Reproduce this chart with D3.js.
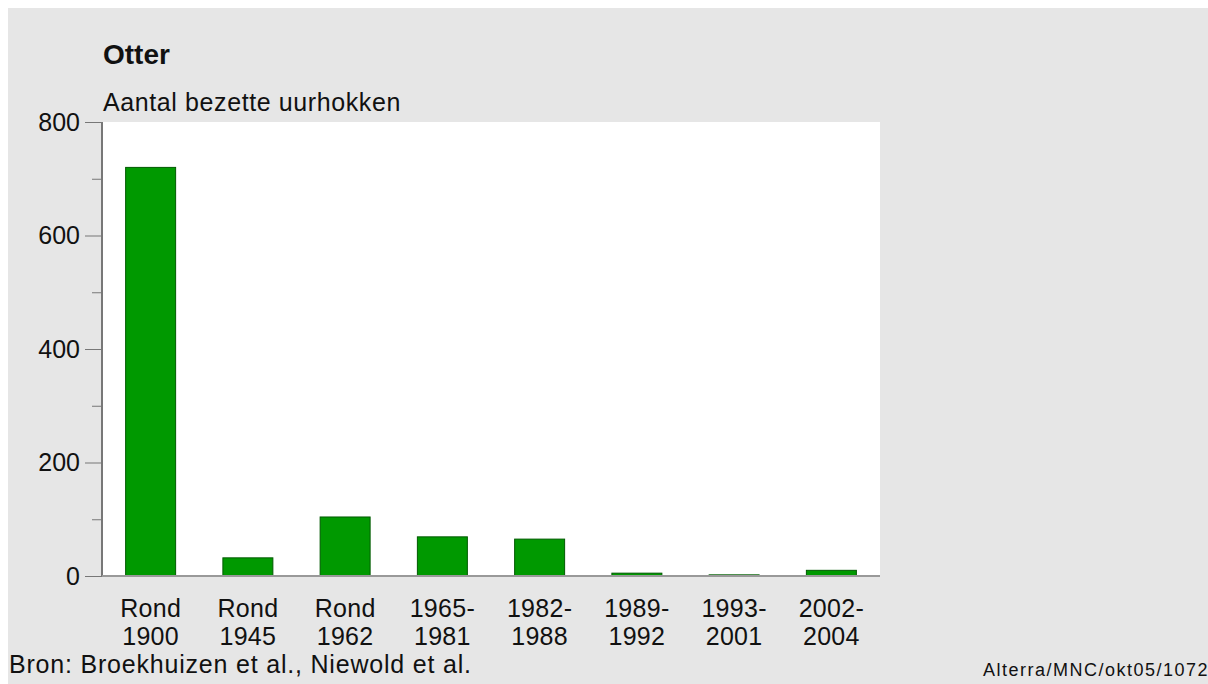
<!DOCTYPE html>
<html>
<head>
<meta charset="utf-8">
<script src="https://cdn.jsdelivr.net/npm/d3@7"></script>
<style>
  body { margin: 0; background: #fff; }
  text { font-family: "Liberation Sans", Arial, sans-serif; fill: #111; }
</style>
</head>
<body>
<script>
var labelsTop = ["Rond", "Rond", "Rond", "1965-", "1982-", "1989-", "1993-", "2002-"];
var labelsBottom = ["1900", "1945", "1962", "1981", "1988", "1992", "2001", "2004"];
var categories = labelsTop.map(function(d, i) { return d + " " + labelsBottom[i]; });
var values = [720, 32, 104, 69, 65, 5, 2, 10];
var yTicks = [0, 200, 400, 600, 800];

var W = 1208, H = 684;
var margin = {top: 122, left: 102},
    width = 778,
    height = 454;

var svg = d3.select("body").append("svg")
    .attr("width", W)
    .attr("height", H);

svg.append("rect")
    .attr("x", 8).attr("y", 8)
    .attr("width", W - 8).attr("height", H - 8)
    .attr("fill", "#e6e6e6");

var g = svg.append("g")
    .attr("transform", "translate(" + margin.left + "," + margin.top + ")");

g.append("rect")
    .attr("width", width)
    .attr("height", height)
    .attr("fill", "#fff");

var x = d3.scaleBand()
    .domain(categories)
    .range([0, width])
    .paddingInner(0.486)
    .paddingOuter(0.243);

var y = d3.scaleLinear()
    .domain([0, 800])
    .range([height, 0]);

// bars
g.selectAll(".bar")
    .data(values)
  .enter().append("rect")
    .attr("class", "bar")
    .attr("x", function(d, i) { return x(categories[i]); })
    .attr("width", x.bandwidth())
    .attr("y", function(d) { return y(d); })
    .attr("height", function(d) { return height - y(d); })
    .attr("fill", "#009900")
    .attr("stroke", "#005a00")
    .attr("stroke-width", 1);

// y axis
var yAxis = d3.axisLeft(y)
    .tickValues(yTicks)
    .tickSize(17)
    .tickPadding(5)
    .tickFormat(d3.format("d"));

var ya = g.append("g").call(yAxis);
ya.select(".domain").remove();
ya.selectAll(".tick line").attr("stroke", "#777");
ya.selectAll(".tick text")
    .attr("font-size", 25)
    .attr("fill", "#111")
    .attr("font-family", "Liberation Sans, Arial, sans-serif");

// minor ticks
var yMinor = d3.axisLeft(y)
    .tickValues([100, 300, 500, 700])
    .tickSize(10)
    .tickFormat("");
var ym = g.append("g").call(yMinor);
ym.select(".domain").remove();
ym.selectAll(".tick line").attr("stroke", "#777");

g.append("line")
    .attr("x1", 0).attr("x2", 0)
    .attr("y1", 0).attr("y2", height)
    .attr("stroke", "#777").attr("stroke-width", 2);

g.append("line")
    .attr("x1", 0).attr("x2", width)
    .attr("y1", height).attr("y2", height)
    .attr("stroke", "#999").attr("stroke-width", 2);

// x labels
var xl = g.selectAll(".xlab")
    .data(categories)
  .enter().append("text")
    .attr("class", "xlab")
    .attr("text-anchor", "middle")
    .attr("font-size", 25)
    .attr("letter-spacing", 0.3)
    .attr("x", function(d) { return x(d) + x.bandwidth() / 2; });
xl.append("tspan")
    .attr("x", function(d) { return x(d) + x.bandwidth() / 2; })
    .attr("y", height + 41)
    .text(function(d, i) { return labelsTop[i]; });
xl.append("tspan")
    .attr("x", function(d) { return x(d) + x.bandwidth() / 2; })
    .attr("y", height + 69)
    .text(function(d, i) { return labelsBottom[i]; });

// titles
svg.append("text")
    .attr("x", 103).attr("y", 64)
    .attr("font-size", 28)
    .attr("font-weight", "bold")
    .text("Otter");

svg.append("text")
    .attr("x", 103).attr("y", 111)
    .attr("font-size", 25)
    .attr("letter-spacing", 0.6)
    .text("Aantal bezette uurhokken");

svg.append("text")
    .attr("x", 9).attr("y", 673)
    .attr("font-size", 25)
    .attr("letter-spacing", 0.8)
    .text("Bron: Broekhuizen et al., Niewold et al.");

svg.append("text")
    .attr("x", 983).attr("y", 676)
    .attr("font-size", 18)
    .attr("letter-spacing", 1.5)
    .text("Alterra/MNC/okt05/1072");
</script>
</body>
</html>
